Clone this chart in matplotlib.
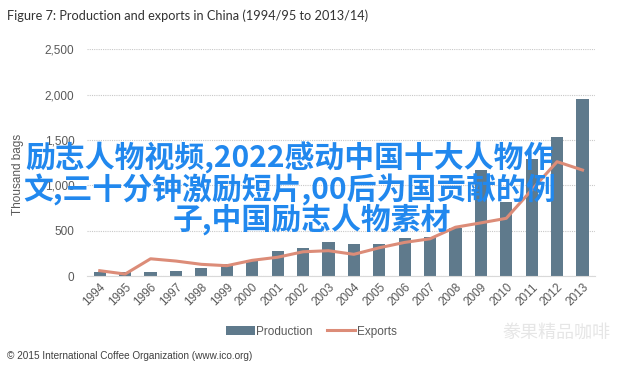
import matplotlib.pyplot as plt
import numpy as np

years = [str(y) for y in range(1994, 2014)]
production = [50, 44, 45, 55, 95, 135, 175, 280, 314, 380, 355, 358, 420, 428, 530,
              1168, 820, 1290, 1530, 1947]
exports = [62, 25, 193, 168, 132, 117, 176, 210, 270, 282, 242, 314, 373, 413, 540,
           588, 638, 950, 1261, 1169]
yticks = [0, 500, 1000, 1500, 2000, 2500]

overlay_lines = ["励志人物视频,2022感动中国十大人物作",
                 "文,三十分钟激励短片,00后为国贡献的例",
                 "子,中国励志人物素材"]

GRAY = "#595959"
BAR = "#5f7a8c"
LINE = "#dc8c78"

fig = plt.figure(figsize=(6.4, 3.66), dpi=100)
ax = fig.add_axes([0.136, 0.245, 0.794, 0.621])

x = np.arange(len(years))
bars = ax.bar(x, production, width=0.48, color=BAR, label="Production", zorder=2)
line, = ax.plot(x, exports, color=LINE, lw=2.2, label="Exports", zorder=3)

ax.set_xlim(-0.5, len(years) - 0.5)
ax.set_ylim(0, 2500)
ax.set_yticks(yticks)
ax.set_yticklabels([f"{v:,}" for v in yticks])
ax.grid(axis="y", color="#c8c8c8", linestyle=(0, (1, 1)), lw=0.8, zorder=0)
for s in ["top", "right", "left"]:
    ax.spines[s].set_visible(False)
ax.spines["bottom"].set_color("#d9d9d9")
ax.tick_params(axis="both", length=0, colors=GRAY, labelsize=8.5)
ax.tick_params(axis="y", pad=9)
ax.set_xticks(x)
ax.set_xticklabels(years, rotation=45, ha="right", rotation_mode="anchor",
                   family="Liberation Sans")
for t in ax.get_yticklabels():
    t.set_family("Liberation Sans")
ax.set_ylabel("Thousand bags", color=GRAY, fontsize=8.5, family="Liberation Sans")
ax.yaxis.set_label_coords(-0.125, 0.45)

fig.text(0.011, 0.957, "Figure 7: Production and exports in China (1994/95 to 2013/14)",
         fontsize=9.2, color="#333333", family="Lato", va="center")

leg = fig.legend([bars, line], ["Production", "Exports"], loc="center",
                 bbox_to_anchor=(0.487, 0.094), ncol=2, frameon=False,
                 handlelength=2.4, handletextpad=0.15, columnspacing=1.2,
                 prop={"family": "Liberation Sans", "size": 8.5})
for t in leg.get_texts():
    t.set_color(GRAY)

fig.text(0.011, 0.027, "© 2015 International Coffee Organization (www.ico.org)",
         fontsize=7.2, color="#404040", family="Liberation Sans", va="center")

fig.text(0.87, 0.091, "豢果精品咖啡", fontsize=13, color="#e6e6e6",
         family=["Noto Sans CJK SC", "DejaVu Sans"], ha="center", va="center")

centers = [(0.453, 0.568), (0.453, 0.481), (0.488, 0.400)]
for (cx, cy), txt in zip(centers, overlay_lines):
    fig.text(cx, cy, txt, fontsize=21.5, color="#2188ee", fontweight="bold",
             family=["Noto Sans CJK SC", "DejaVu Sans"], ha="center", va="center",
             zorder=10)

fig.savefig("out.png", dpi=100)
